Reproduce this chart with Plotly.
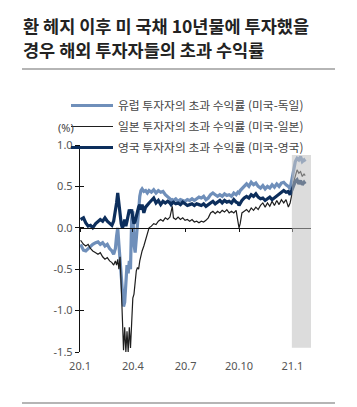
import plotly.graph_objects as go

dates = ["2020-01-02","2020-01-07","2020-01-11","2020-01-15","2020-01-19","2020-01-23","2020-01-28",
"2020-02-01","2020-02-05","2020-02-09","2020-02-13","2020-02-17","2020-02-21","2020-02-25","2020-02-28",
"2020-03-02","2020-03-04","2020-03-06","2020-03-08","2020-03-10","2020-03-12","2020-03-14","2020-03-16",
"2020-03-18","2020-03-20","2020-03-22","2020-03-24","2020-03-26","2020-03-28","2020-03-30",
"2020-04-01","2020-04-03","2020-04-05","2020-04-07","2020-04-09","2020-04-11","2020-04-13","2020-04-15",
"2020-04-17","2020-04-20","2020-04-23","2020-04-26","2020-04-29",
"2020-05-03","2020-05-07","2020-05-11","2020-05-15","2020-05-19","2020-05-23","2020-05-27","2020-05-31",
"2020-06-04","2020-06-06","2020-06-08","2020-06-10","2020-06-14","2020-06-18","2020-06-22","2020-06-26","2020-06-30",
"2020-07-04","2020-07-08","2020-07-12","2020-07-16","2020-07-20","2020-07-24","2020-07-28",
"2020-08-01","2020-08-05","2020-08-09","2020-08-13","2020-08-17","2020-08-21","2020-08-25","2020-08-29",
"2020-09-02","2020-09-06","2020-09-10","2020-09-14","2020-09-18","2020-09-22","2020-09-26","2020-09-29",
"2020-10-01","2020-10-03","2020-10-06","2020-10-10","2020-10-14","2020-10-18","2020-10-22","2020-10-26","2020-10-30",
"2020-11-03","2020-11-07","2020-11-11","2020-11-15","2020-11-19","2020-11-23","2020-11-27",
"2020-12-01","2020-12-05","2020-12-09","2020-12-13","2020-12-17","2020-12-21","2020-12-25","2020-12-28","2020-12-31",
"2021-01-03","2021-01-06","2021-01-09","2021-01-12","2021-01-15","2021-01-18","2021-01-21","2021-01-23"]

europe = [-0.20,-0.27,-0.28,-0.25,-0.22,-0.20,-0.18,
-0.17,-0.20,-0.18,-0.22,-0.20,-0.25,-0.28,-0.32,
-0.25,-0.10,0.00,-0.20,-0.40,-0.60,-0.80,-0.95,
-0.90,-0.70,-0.45,-0.55,-0.40,-0.50,0.10,
0.20,-0.20,-0.30,-0.10,0.05,0.25,0.38,0.45,
0.47,0.44,0.45,0.42,0.45,
0.43,0.46,0.42,0.45,0.43,0.44,0.40,0.38,
0.35,0.33,0.34,0.33,0.35,0.32,0.34,0.33,0.32,
0.34,0.33,0.35,0.33,0.35,0.37,0.36,
0.38,0.34,0.36,0.40,0.42,0.40,0.38,0.40,
0.38,0.41,0.39,0.40,0.38,0.42,0.40,0.43,
0.42,0.45,0.47,0.50,0.53,0.50,0.55,0.52,0.54,
0.50,0.48,0.51,0.47,0.50,0.48,0.52,
0.49,0.53,0.50,0.54,0.55,0.52,0.50,0.47,0.60,
0.72,0.80,0.84,0.82,0.86,0.80,0.82,0.80]

japan = [-0.15,-0.20,-0.22,-0.20,-0.25,-0.28,-0.30,
-0.32,-0.30,-0.35,-0.38,-0.36,-0.40,-0.42,-0.45,
-0.40,-0.45,-0.38,-0.50,-0.35,-0.70,-1.20,-1.48,
-1.20,-1.50,-1.25,-1.50,-1.20,-1.45,-1.15,
-0.85,-0.80,-0.60,-0.52,-0.48,-0.50,-0.40,-0.32,
-0.28,-0.22,-0.15,-0.08,0.00,
0.02,0.05,0.04,0.08,0.10,0.08,0.12,0.10,
0.13,0.20,0.26,0.12,0.10,0.13,0.10,0.12,0.09,
0.10,0.08,0.10,0.07,0.08,0.06,0.08,
0.07,0.09,0.12,0.18,0.20,0.17,0.20,0.18,
0.21,0.19,0.22,0.18,0.20,0.18,0.21,0.08,
0.00,0.05,0.18,0.20,0.22,0.19,0.24,0.21,0.25,
0.22,0.27,0.30,0.25,0.30,0.26,0.32,
0.27,0.33,0.28,0.34,0.30,0.34,0.25,0.30,0.40,
0.55,0.62,0.70,0.66,0.68,0.62,0.65,0.63]

uk = [0.10,0.12,0.06,0.02,0.03,0.00,0.05,
0.07,0.10,0.08,0.12,0.08,0.05,0.03,0.08,
0.20,0.30,0.42,0.30,0.15,0.05,0.00,0.03,
0.10,0.02,0.08,0.15,0.22,0.18,0.22,
0.12,0.05,0.08,0.15,0.22,0.25,0.28,0.22,
0.28,0.18,0.25,0.28,0.30,
0.33,0.36,0.30,0.33,0.28,0.32,0.30,0.32,
0.30,0.28,0.30,0.31,0.29,0.30,0.28,0.31,0.29,
0.27,0.28,0.29,0.27,0.29,0.28,0.27,
0.29,0.26,0.28,0.30,0.32,0.29,0.31,0.33,
0.30,0.33,0.31,0.32,0.30,0.34,0.31,0.30,
0.27,0.30,0.33,0.36,0.38,0.36,0.40,0.38,0.41,
0.37,0.35,0.36,0.33,0.35,0.37,0.34,
0.36,0.38,0.40,0.43,0.45,0.43,0.44,0.40,0.45,
0.50,0.56,0.58,0.53,0.57,0.52,0.55,0.53]

series_names = ["유럽 투자자의 초과 수익률 (미국-독일)",
                "일본 투자자의 초과 수익률 (미국-일본)",
                "영국 투자자의 초과 수익률 (미국-영국)"]
tick_vals = ["2020-01-01", "2020-04-01", "2020-07-01", "2020-10-01", "2021-01-01"]
tick_text = ["20.1", "20.4", "20.7", "20.10", "21.1"]
y_ticks = [1.0, 0.5, 0.0, -0.5, -1.0, -1.5]
y_text = ["1.0", "0.5", "0.0", "-0.5", "-1.0", "-1.5"]
title_lines = ["환 헤지 이후 미 국채 10년물에 투자했을", "경우 해외 투자자들의 초과 수익률"]

KR = "Noto Sans CJK KR"
x_range = ["2020-01-01", "2021-02-02"]

fig = go.Figure()
styles = [dict(color="#6f8fba", width=3.2), dict(color="#1e1e1e", width=1.2), dict(color="#0c2e5c", width=3.2)]
for name, vals, st, g in zip(series_names, [europe, japan, uk], styles, ["a", "b", "c"]):
    fig.add_trace(go.Scatter(x=dates, y=vals, mode="lines", name=name, line=st,
                             legendgroup=g, hoverinfo="skip"))

W, H = 357, 407
L, R, T, B = 80, 46, 145, 55
pw, ph = W - L - R, H - T - B

def px(xp):
    return (xp - L) / pw

def py(yp):
    return (H - B - yp) / ph

fig.update_layout(
    width=W, height=H, margin=dict(l=L, r=R, t=T, b=B),
    plot_bgcolor="white", paper_bgcolor="white",
    showlegend=True,
    legend=dict(x=px(66), y=py(91), xanchor="left", yanchor="top", itemwidth=42,
                bgcolor="rgba(0,0,0,0)", font=dict(family=KR, size=11.8, color="#444"),
                tracegroupgap=2, itemclick=False),
    xaxis=dict(range=x_range, type="date", tickvals=tick_vals, ticktext=tick_text,
               showgrid=False, showline=False, zeroline=False, ticks="",
               ticklabelstandoff=6,
               tickfont=dict(family="Noto Sans", size=11, color="#555")),
    xaxis2=dict(range=x_range, type="date", overlaying="x", anchor="free", position=0.6,
                tickvals=tick_vals, showticklabels=False, showgrid=False, zeroline=False,
                showline=True, linecolor="#111", linewidth=1.3, ticks="outside",
                ticklen=3, tickcolor="#111"),
    yaxis=dict(range=[-1.5, 1.0], tickvals=y_ticks, ticktext=y_text, showgrid=False,
               zeroline=False, showline=True, linecolor="#111", linewidth=1.3,
               ticks="outside", ticklen=4, tickcolor="#111", tickwidth=1.3,
               tickfont=dict(family="Noto Sans", size=11, color="#555")),
    yaxis2=dict(range=[-1.5, 1.0], overlaying="y", anchor="x", side="left",
                tickvals=y_ticks, showticklabels=False, showgrid=False, zeroline=False,
                showline=False, ticks="inside", ticklen=4, tickcolor="#111", tickwidth=1.3),
)

fig.add_trace(go.Scatter(x=[None], y=[None], xaxis="x2", yaxis="y2", showlegend=False, hoverinfo="skip"))

fig.add_shape(type="rect", xref="x", yref="y", x0="2020-12-31", x1="2021-02-03", y0=-1.45, y1=0.88,
              fillcolor="rgba(192,192,192,0.55)", line=dict(width=0), layer="above")

fig.add_shape(type="line", xref="paper", yref="paper", x0=px(22), x1=px(335), y0=py(69), y1=py(69),
              line=dict(color="#b5b5b5", width=2))
fig.add_shape(type="line", xref="paper", yref="paper", x0=px(22), x1=px(335), y0=py(403), y1=py(403),
              line=dict(color="#b5b5b5", width=2))

for t, yc in zip(title_lines, [25, 50]):
    fig.add_annotation(text=t, xref="paper", yref="paper", x=px(21), y=py(yc), xanchor="left",
                       yanchor="middle", showarrow=False,
                       font=dict(family=KR, size=17.5, color="#222", weight="bold"))

fig.add_annotation(text="(%)", xref="paper", yref="paper", x=px(66), y=py(127), xanchor="center",
                   yanchor="middle", showarrow=False, font=dict(family="Noto Sans", size=11, color="#444"))

fig.write_html("out.html", config={"displayModeBar": False},
               post_script="document.body.style.margin='0px';")
